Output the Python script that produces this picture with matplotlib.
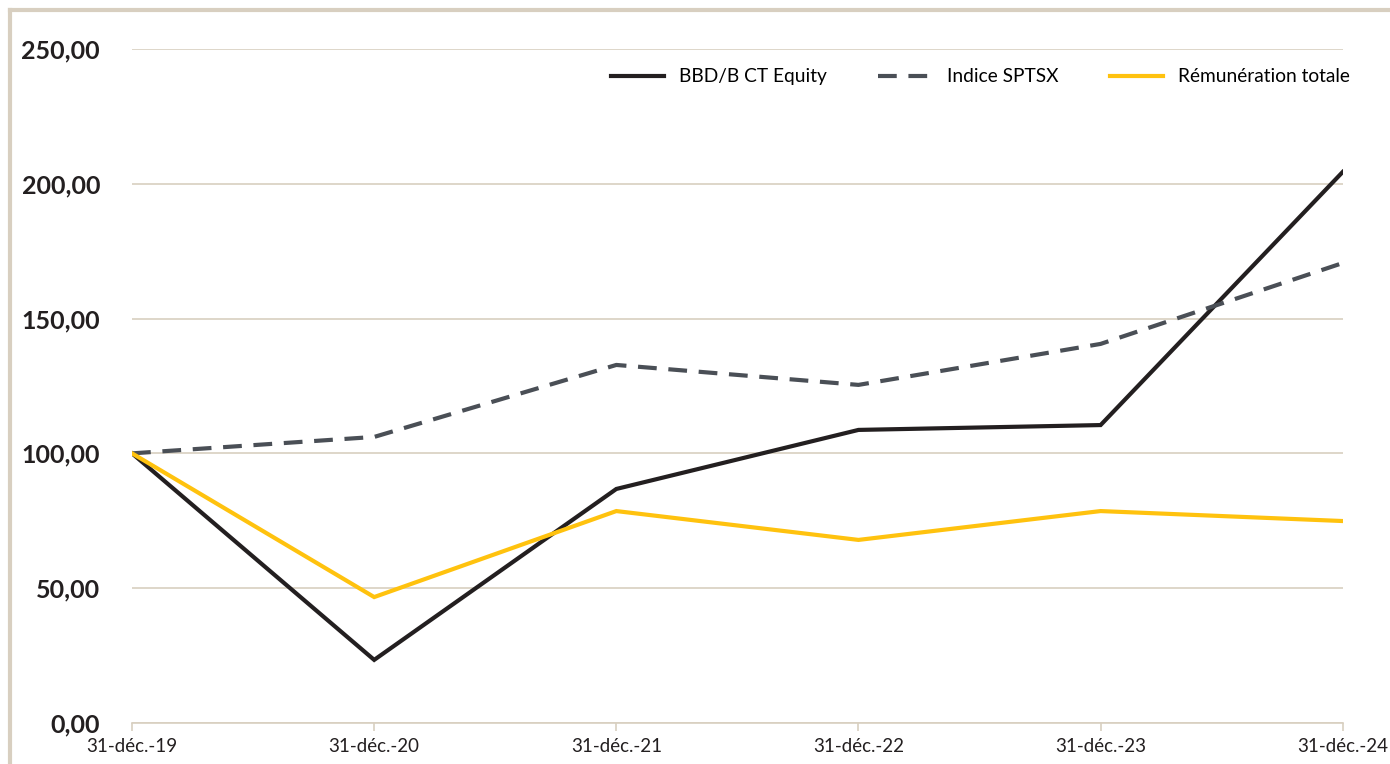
import matplotlib.pyplot as plt
from matplotlib.lines import Line2D

# donnees
dates = ["31-déc.-19", "31-déc.-20", "31-déc.-21", "31-déc.-22", "31-déc.-23", "31-déc.-24"]
bbd = [100, 23.4, 86.8, 108.7, 110.5, 204.4]
sptsx = [100, 106.1, 132.8, 125.4, 140.6, 170.6]
remun = [100, 46.7, 78.6, 67.9, 78.6, 74.9]

beige = '#d8cfc0'
plt.rcParams['font.family'] = ['Lato', 'DejaVu Sans']

fig = plt.figure(figsize=(13.9, 7.64), dpi=100)
ax = fig.add_axes([0.095, 0.0537, 0.871, 0.8822])

x = list(range(len(dates)))
ax.plot(x, bbd, color='#231f20', lw=3, label='BBD/B CT Equity', solid_joinstyle='miter')
ax.plot(x, sptsx, color='#4a4f56', lw=3, ls=(0, (4.5, 2.8)), label='Indice SPTSX')
ax.plot(x, remun, color='#ffc20e', lw=3, label='Rémunération totale', solid_joinstyle='miter')

ax.set_xlim(0, 5)
ax.set_ylim(0, 250)
ax.set_xticks(x)
ax.set_xticklabels(dates, fontsize=13.5, color='#231f20')
ax.set_yticks([0, 50, 100, 150, 200, 250])
ax.set_yticklabels(["0,00", "50,00", "100,00", "150,00", "200,00", "250,00"],
                   fontsize=18, fontweight='bold', color='#231f20')
ax.tick_params(axis='y', length=0, pad=23)
ax.tick_params(axis='x', length=6, width=1.2, color=beige, pad=5)
ax.grid(axis='y', color=beige, lw=1.2)
ax.set_axisbelow(True)
for s in ['top', 'right', 'left']:
    ax.spines[s].set_visible(False)
ax.spines['bottom'].set_color(beige)
ax.spines['bottom'].set_linewidth(1.2)
for lab in ax.get_xticklabels():
    lab.set_clip_on(False)

leg = ax.legend(loc='upper right', bbox_to_anchor=(1.02, 0.997), ncol=3, frameon=False,
                fontsize=13.8, handlelength=2.8, handletextpad=0.75, columnspacing=2.7)

# cadre beige en haut et a gauche
fig.add_artist(Line2D([0.0075, 0.0075], [0, 0.987], color=beige, lw=3, transform=fig.transFigure))
fig.add_artist(Line2D([0.0075, 1], [0.987, 0.987], color=beige, lw=3, transform=fig.transFigure))

plt.savefig('out.png', dpi=100)
plt.close()
